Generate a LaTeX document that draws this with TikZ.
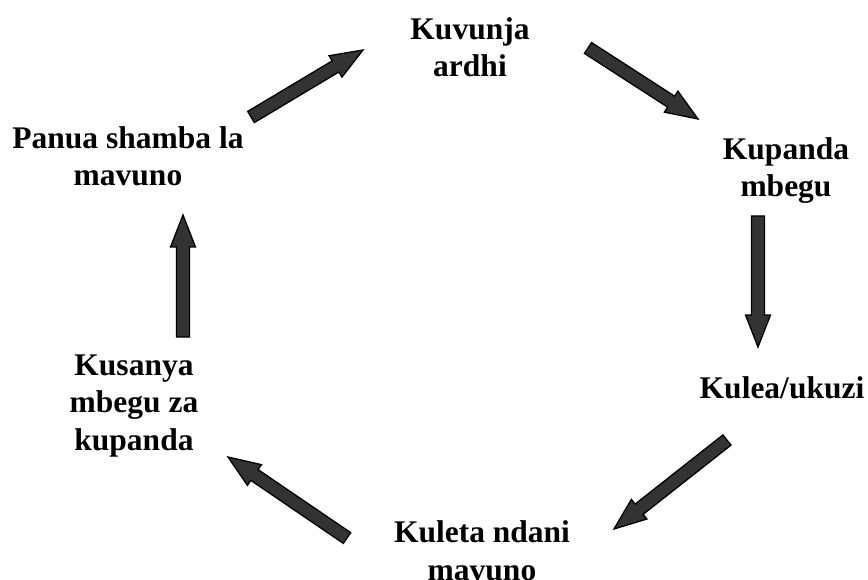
\documentclass[tikz,border=0pt]{standalone}
\usepackage{fontspec}
\setmainfont{Liberation Serif}
\usetikzlibrary{calc}
\definecolor{arrowgray}{HTML}{333333}
\tikzset{
  lbl/.style={font=\bfseries\fontsize{31.5}{37.5}\selectfont, align=center, anchor=base, inner sep=0pt},
  blk/.style={draw=black, fill=arrowgray, line width=1.3pt, line join=miter}
}
\newcommand\blkarrow[2]{%
  \coordinate (#1b) at ($(#2)!32pt!(#1)$);
  \path[blk] ($(#1)!6.5pt!90:(#2)$) -- ($(#1b)!6.5pt!90:(#2)$) -- ($(#1b)!12.5pt!90:(#2)$)
    -- (#2) -- ($(#1b)!12.5pt!-90:(#2)$) -- ($(#1b)!6.5pt!-90:(#2)$) -- ($(#1)!6.5pt!-90:(#2)$) -- cycle;
}
\begin{document}
\begin{tikzpicture}[x=1pt,y=-1pt]
\useasboundingbox (0,0) rectangle (868,580);
% anchor=base is the baseline of the last line
\node[lbl] (kuvunja) at (470,77) {Kuvunja\\ardhi};
\node[lbl] (kupanda) at (786,197) {Kupanda\\mbegu};
\node[lbl] (kulea) at (782,398) {Kulea/ukuzi};
\node[lbl] (kuleta) at (482,580) {Kuleta ndani\\mavuno};
\node[lbl] (kusanya) at (134,450) {Kusanya\\mbegu za\\kupanda};
\node[lbl] (panua) at (128,186) {Panua shamba la\\mavuno};
\coordinate (a1) at (251,117); \coordinate (a1t) at (363,50);
\coordinate (a2) at (588,48);  \coordinate (a2t) at (698,119);
\coordinate (a3) at (758,216); \coordinate (a3t) at (758,347);
\coordinate (a4) at (727,440); \coordinate (a4t) at (614,529);
\coordinate (a5) at (347,538); \coordinate (a5t) at (228,457);
\coordinate (a6) at (183,337); \coordinate (a6t) at (183,215);
\blkarrow{a1}{a1t}
\blkarrow{a2}{a2t}
\blkarrow{a3}{a3t}
\blkarrow{a4}{a4t}
\blkarrow{a5}{a5t}
\blkarrow{a6}{a6t}
\end{tikzpicture}
\end{document}
